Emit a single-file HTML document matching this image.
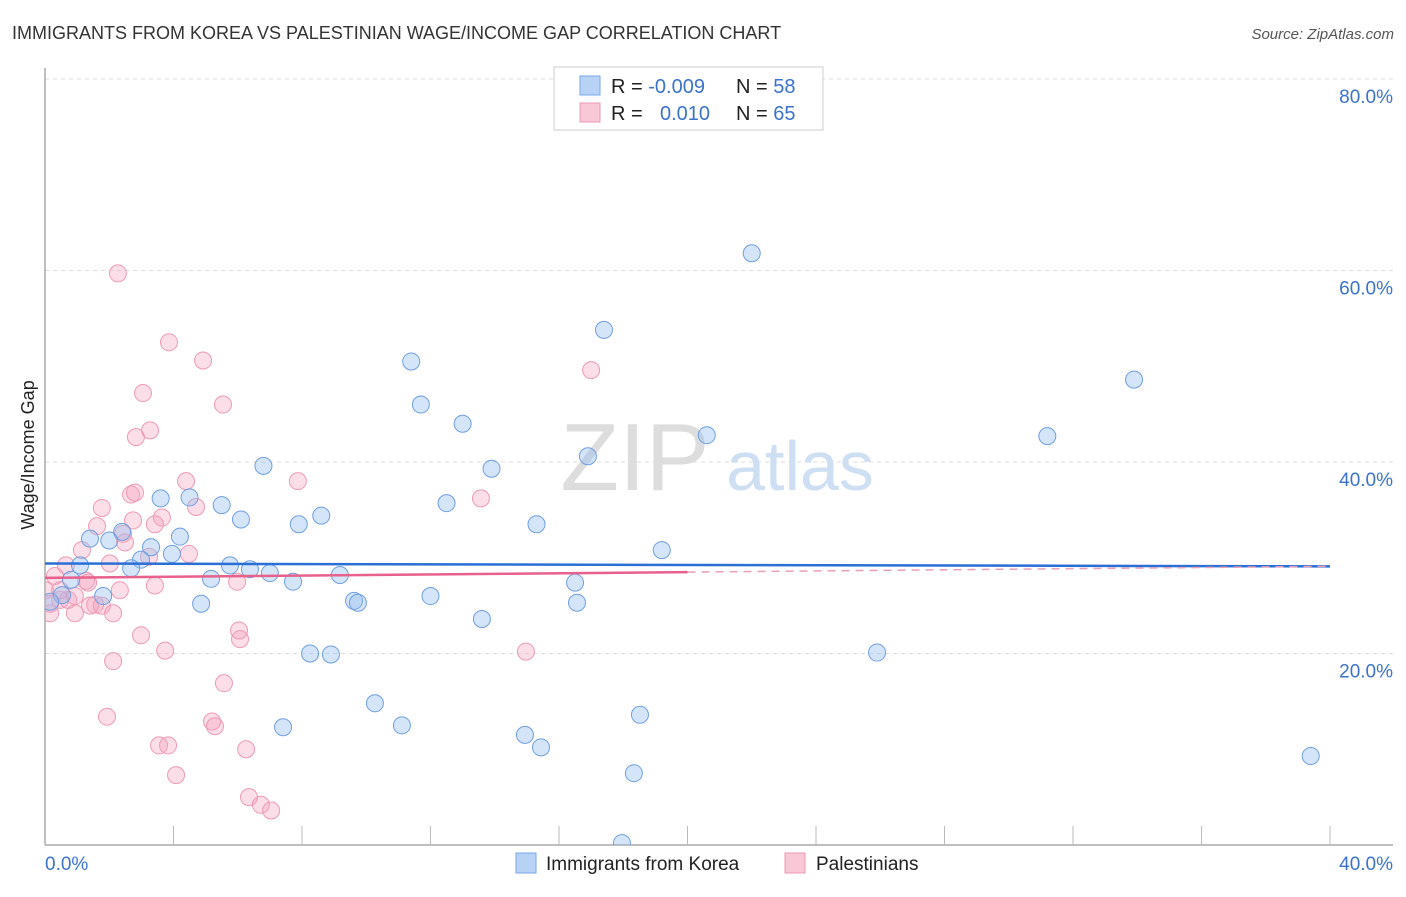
<!DOCTYPE html>
<html><head><meta charset="utf-8"><style>
body{margin:0;background:#fff;font-family:"Liberation Sans",sans-serif}
svg text{font-family:"Liberation Sans",sans-serif}
</style></head><body>
<svg width="1406" height="892" xmlns="http://www.w3.org/2000/svg">
<defs><clipPath id="plot"><rect x="45" y="60" width="1350" height="785"/></clipPath></defs>
<text x="12" y="39" font-size="18" fill="#333">IMMIGRANTS FROM KOREA VS PALESTINIAN WAGE/INCOME GAP CORRELATION CHART</text>
<text x="1394" y="39" font-size="15" fill="#555" font-style="italic" text-anchor="end">Source: ZipAtlas.com</text>
<g id="grid"></g>
<text x="635" y="490" font-size="96" fill="#ddd" font-family="Liberation Serif" text-anchor="middle">ZIP</text>
<text x="800" y="490" font-size="70" fill="#cfdff3" text-anchor="middle">atlas</text>
<g id="axes"></g>
<g id="pts" clip-path="url(#plot)"></g>
<g id="trend"></g>
<text transform="translate(34,455) rotate(-90)" font-size="18" fill="#222" text-anchor="middle">Wage/Income Gap</text>
<g>
<rect x="554" y="67" width="269" height="63" fill="#fff" stroke="#ccc"/>
<rect x="580" y="76" width="20" height="19" fill="#b8d2f5" stroke="#7aa8e8"/>
<rect x="580" y="103" width="20" height="19" fill="#f9c8d6" stroke="#ee9ab4"/>
<text x="611" y="93" font-size="20" fill="#222">R = <tspan fill="#3b73cc">-0.009</tspan><tspan x="736">N = </tspan><tspan fill="#3b73cc">58</tspan></text>
<text x="611" y="120" font-size="20" fill="#222">R = <tspan x="660" fill="#3b73cc">0.010</tspan><tspan x="736">N = </tspan><tspan fill="#3b73cc">65</tspan></text>
</g>
<g>
<rect x="516" y="853" width="20" height="20" fill="#b8d2f5" stroke="#7aa8e8"/>
<text x="546" y="870" font-size="19" fill="#222">Immigrants from Korea</text>
<rect x="785" y="853" width="20" height="20" fill="#f9c8d6" stroke="#ee9ab4"/>
<text x="816" y="870" font-size="19" fill="#222">Palestinians</text>
</g>
</svg>
<script>
const yTicks=[20,40,60,80];
const yTickLabels=["20.0%","40.0%","60.0%","80.0%"];
const xEndLabels=["0.0%","40.0%"];
const koreaX=[22.0,17.4,11.4,33.9,11.7,13.0,20.6,31.2,16.9,6.8,13.9,3.6,4.5,5.5,12.5,6.1,8.6,7.9,15.3,1.4,2.4,2.0,4.2,3.3,3.95,19.2,2.99,2.68,5.76,6.38,7.0,5.17,7.72,9.18,16.5,0.53,0.81,1.81,4.86,9.62,9.74,12.0,16.56,13.6,8.25,8.9,25.9,10.27,7.41,11.11,18.52,14.94,15.44,39.4,18.33,17.96,0.16,1.09];
const koreaY=[61.8,53.8,50.5,48.6,46.0,44.0,42.8,42.7,40.6,39.6,39.3,36.2,36.3,35.5,35.7,34.0,34.4,33.5,33.5,32.0,32.7,31.8,32.2,31.1,30.4,30.8,29.8,28.9,29.2,28.8,28.4,27.8,27.5,28.2,27.4,26.1,27.7,26.0,25.2,25.5,25.3,26.0,25.3,23.6,20.0,19.9,20.1,14.8,12.3,12.5,13.6,11.5,10.2,9.3,7.5,0.2,25.4,29.2];
const palX=[2.27,3.86,4.92,5.54,3.05,2.83,3.27,4.39,7.87,17.0,13.57,2.68,2.8,1.77,4.7,3.64,1.62,2.43,3.42,2.74,2.49,2.02,3.24,4.48,1.15,0.65,0.31,5.98,1.34,1.28,0.47,0.72,0.93,1.56,1.4,1.77,2.12,2.33,0.93,3.42,2.99,3.74,6.07,6.04,14.97,2.12,5.57,1.93,5.2,5.29,3.55,3.83,6.26,4.08,6.35,6.72,7.04,0.16,0.0,0.16,0.47];
const palY=[59.7,52.5,50.6,46.0,47.2,42.6,43.3,38.0,38.0,49.6,36.2,36.6,36.8,35.2,35.3,34.2,33.3,32.5,33.5,33.9,31.6,29.4,30.1,30.4,30.8,29.2,28.1,27.5,27.4,27.6,25.6,25.6,26.0,25.1,25.0,25.0,24.2,26.6,24.2,27.1,21.9,20.3,21.5,22.4,20.2,19.2,16.9,13.4,12.9,12.4,10.4,10.4,10.0,7.3,5.0,4.2,3.6,24.2,26.6,25.2,26.6];
const koreaTrend=[29.4,29.1];
const palTrend=[27.9,29.1];
const NS="http://www.w3.org/2000/svg";
const X=v=>45+v/40*1285, Y=v=>845-v/20*191.5;
function mk(t,a,p){const e=document.createElementNS(NS,t);for(const k in a)e.setAttribute(k,a[k]);p.appendChild(e);return e;}
const grid=document.getElementById('grid'),axes=document.getElementById('axes'),pts=document.getElementById('pts'),trend=document.getElementById('trend');
yTicks.forEach((t,i)=>{
 const l=mk('line',{x1:45,x2:1393,y1:Y(t),y2:Y(t),stroke:'#ddd','stroke-dasharray':'4,4'},grid);
 
 
 const tx=mk('text',{x:1393,y:Y(t)+24,'font-size':19,fill:'#3b73cc','text-anchor':'end'},axes);
 tx.textContent=yTickLabels[i];
 
 
});
const ya=mk('line',{x1:45,x2:45,y1:68,y2:845,stroke:'#aaa','stroke-width':1.5},axes);


const xa=mk('line',{x1:45,x2:1393,y1:845,y2:845,stroke:'#aaa','stroke-width':1.5},axes);


for(let i=1;i<=10;i++){const t=mk('line',{x1:X(i*4),x2:X(i*4),y1:826,y2:845,stroke:'#bbb'},axes);
 
 }
const xl0=mk('text',{x:45,y:870,'font-size':19,fill:'#3b73cc'},axes);xl0.textContent=xEndLabels[0];


const xl1=mk('text',{x:1393,y:870,'font-size':19,fill:'#3b73cc','text-anchor':'end'},axes);xl1.textContent=xEndLabels[1];


palX.forEach((v,i)=>{const c=mk('circle',{cx:X(v),cy:Y(palY[i]),r:8.5,fill:'rgba(244,160,188,0.35)',stroke:'#ee9ab4','stroke-width':1},pts);
 
 });
koreaX.forEach((v,i)=>{const c=mk('circle',{cx:X(v),cy:Y(koreaY[i]),r:8.5,fill:'rgba(150,190,240,0.4)',stroke:'#6f9fe0','stroke-width':1},pts);
 
 });
const bt=mk('line',{x1:X(0),x2:X(40),y1:Y(koreaTrend[0]),y2:Y(koreaTrend[1]),stroke:'#2a6fd6','stroke-width':2.5},trend);


const pm=palTrend[0]+(palTrend[1]-palTrend[0])*0.5;
const pt1=mk('line',{x1:X(0),x2:X(20),y1:Y(palTrend[0]),y2:Y(pm),stroke:'#e8608c','stroke-width':2.5},trend);


const pt2=mk('line',{x1:X(20),x2:X(40),y1:Y(pm),y2:Y(palTrend[1]),stroke:'#e8a0b8','stroke-width':1.5,'stroke-dasharray':'8,6'},trend);


</script>
</body></html>
